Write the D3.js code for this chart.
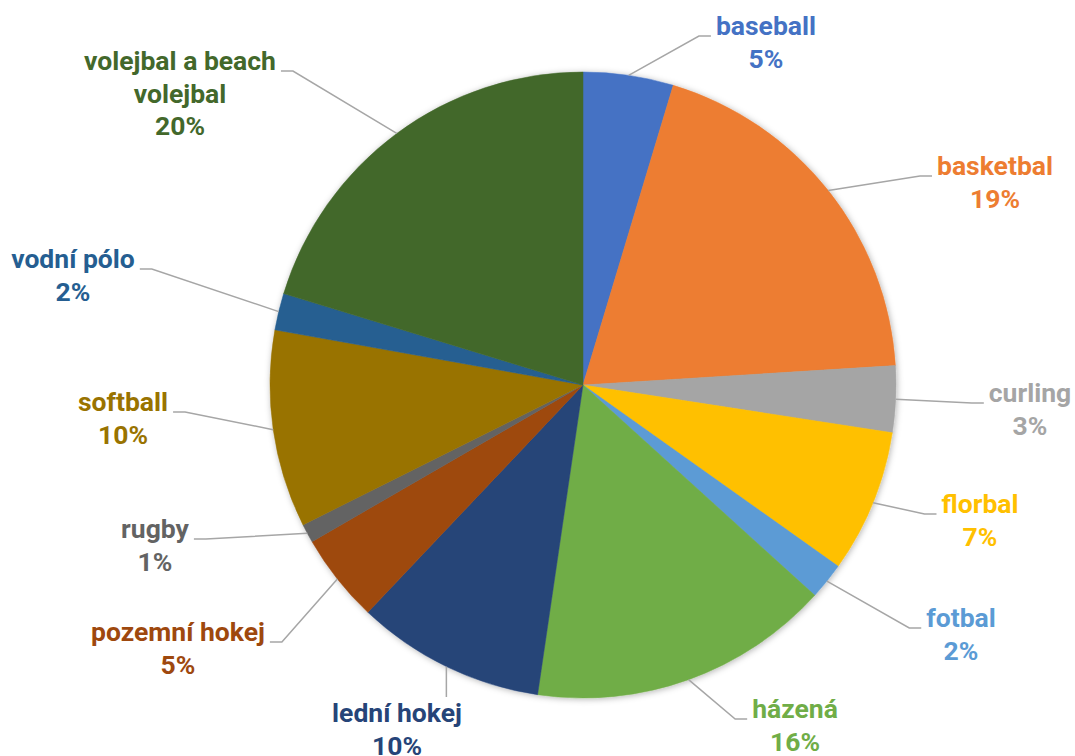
<!DOCTYPE html>
<html><head><meta charset="utf-8">
<script src="https://cdn.jsdelivr.net/npm/d3@7"></script>
<style>
body{margin:0;background:#fff;}
text{font-family:Roboto,"Noto Sans",sans-serif;font-weight:700;}
</style>
</head><body>
<svg id="chart" width="1075" height="756"></svg>
<script>
// ---- data ----
const categories = ["baseball","basketbal","curling","florbal","fotbal","házená","lední hokej","pozemní hokej","rugby","softball","vodní pólo","volejbal a beach volejbal"];
const values = [4.66,19.37,3.43,7.4,1.9,15.6,9.75,4.6,0.97,10.2,1.9,20.3];
const colors = ["#4472C4","#ED7D31","#A5A5A5","#FFC000","#5B9BD5","#70AD47","#264478","#9E480E","#636363","#997300","#255E91","#43682B"];
const labelLines = [["baseball"],["basketbal"],["curling"],["florbal"],["fotbal"],["házená"],["lední hokej"],["pozemní hokej"],["rugby"],["softball"],["vodní pólo"],["volejbal a beach","volejbal"]];

// ---- layout (label anchor: center x, first baseline y) ----
const labelPos = [[766,35],[995,175],[1030,402],[980,513],[961,627],[795,718],[397,722],[178,641],[155,538],[123,411],[73,268],[180,70]];
const leaderMode = ["side","side","side","side","side","side","top","side","side","side","side","side"];

const W = 1075, H = 756, cx = 583, cy = 385, R = 313;
const fontSize = 26.5, lineH = 32.5;

const svg = d3.select("#chart");
const defs = svg.append("defs");
const f = defs.append("filter").attr("id","sh").attr("x","-10%").attr("y","-10%").attr("width","120%").attr("height","120%");
f.append("feDropShadow").attr("dx",1).attr("dy",1).attr("stdDeviation",3).attr("flood-color","#000").attr("flood-opacity",0.3);

const total = d3.sum(values);
const pie = d3.pie().sort(null).value(d => d)(values);
const arc = d3.arc().innerRadius(0).outerRadius(R);

const g = svg.append("g").attr("transform",`translate(${cx},${cy})`);
g.append("g").attr("filter","url(#sh)")
  .selectAll("path").data(pie).join("path")
  .attr("d", arc)
  .attr("fill", (d,i) => colors[i])
  .attr("stroke", (d,i) => colors[i]).attr("stroke-width",0.5);

// labels
const lab = svg.append("g");
pie.forEach((d,i) => {
  const [lx, ly] = labelPos[i];
  const lines = labelLines[i].concat([Math.round(values[i]/total*100) + "%"]);
  const t = lab.append("text").attr("text-anchor","middle").attr("fill",colors[i]).attr("font-size",fontSize);
  lines.forEach((s,k) => t.append("tspan").attr("x",lx).attr("y",ly + k*lineH).text(s));
  const w = t.select("tspan").node().getComputedTextLength();
  const mid = (d.startAngle + d.endAngle)/2;
  const px = cx + R*Math.sin(mid), py = cy - R*Math.cos(mid);
  let pts;
  if (leaderMode[i] === "top") {
    pts = [[px,py],[px, ly - 25]];
  } else if (lx > px) {
    const x0 = lx - w/2 - 5;
    pts = [[px,py],[x0-12, ly+1],[x0, ly+1]];
  } else {
    const x0 = lx + w/2 + 5;
    pts = [[px,py],[x0+12, ly+1],[x0, ly+1]];
  }
  lab.append("path").attr("d", d3.line()(pts)).attr("fill","none").attr("stroke","#A6A6A6").attr("stroke-width",1.5);
});
</script>
</body></html>
